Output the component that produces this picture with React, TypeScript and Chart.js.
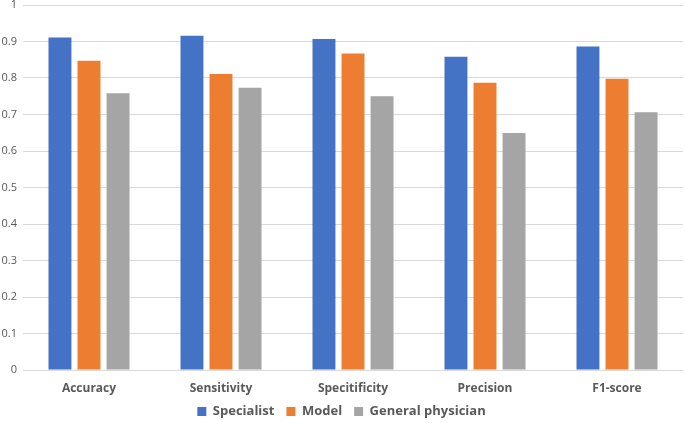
import React, { useEffect, useRef } from "react";
import { Chart, registerables } from "chart.js";

Chart.register(...registerables);

const categories = ["Accuracy", "Sensitivity", "Specitificity", "Precision", "F1-score"];
const specialist = [0.911, 0.916, 0.907, 0.858, 0.886];
const model = [0.847, 0.811, 0.867, 0.787, 0.798];
const generalPhysician = [0.758, 0.773, 0.75, 0.649, 0.706];
const seriesNames = ["Specialist", "Model", "General physician"];

export default function App() {
  const ref = useRef<HTMLCanvasElement | null>(null);
  useEffect(() => {
    document.body.style.margin = "0";
    const ctx = ref.current!;
    const chart = new Chart(ctx, {
      type: "bar",
      data: {
        labels: categories,
        datasets: [
          { label: seriesNames[0], data: specialist, backgroundColor: "#4472C4" },
          { label: seriesNames[1], data: model, backgroundColor: "#ED7D31" },
          { label: seriesNames[2], data: generalPhysician, backgroundColor: "#A5A5A5" },
        ],
      },
      options: {
        animation: false,
        responsive: false,
        maintainAspectRatio: false,
        layout: { padding: { top: 5, right: 2, left: 0, bottom: -5 } },
        datasets: { bar: { categoryPercentage: 0.66, barPercentage: 0.79 } },
        scales: {
          x: {
            grid: { display: false, drawTicks: false },
            border: { display: false },
            afterFit: (s: any) => {
              s.height = 23;
              s._computeLabelArea = () => undefined;
            },
            ticks: {
              color: "#595959",
              font: { family: "Open Sans", size: 12, weight: "bold" },
              padding: 11,
            },
          },
          y: {
            min: 0,
            max: 1,
            border: { display: false },
            grid: { color: "#D9D9D9", drawTicks: false, lineWidth: 1 },
            afterFit: (s: any) => {
              s.width = 23;
              s.paddingTop = 0;
              s.paddingBottom = 0;
            },
            ticks: {
              stepSize: 0.1,
              color: "#595959",
              font: { family: "Open Sans", size: 11 },
              padding: 6,
              callback: (v: any) => String(Math.round(Number(v) * 10) / 10),
            },
          },
        },
        plugins: {
          legend: {
            position: "bottom",
            labels: {
              boxWidth: 9,
              boxHeight: 9,
              color: "#595959",
              font: { family: "Open Sans", size: 13, weight: "bold" },
              padding: 12,
            },
          },
          tooltip: { enabled: false },
        },
      },
    });
    return () => chart.destroy();
  }, []);
  return (
    <div style={{ width: 685, height: 423 }}>
      <canvas ref={ref} width={685} height={423} style={{ width: 685, height: 423 }} />
    </div>
  );
}
